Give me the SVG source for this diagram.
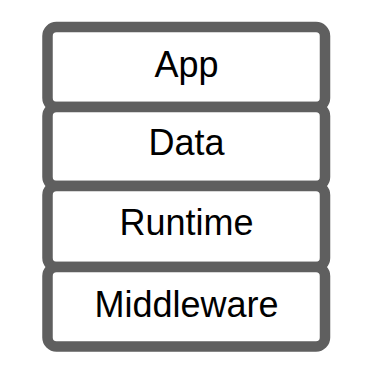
<svg xmlns="http://www.w3.org/2000/svg" width="368" height="376" viewBox="0 0 368 376">
<style>
.box{fill:#fff;stroke:#5f5f5f;stroke-width:10.5}
.lbl{font-family:"Liberation Sans",Arial,sans-serif;font-size:36px;fill:#000;text-anchor:middle}
</style>
<rect width="368" height="376" fill="#fff"/>
<g id="app"><rect class="box" x="47.5" y="27" width="277.5" height="80" rx="9"/><text class="lbl" x="186.5" y="77.3">App</text></g>
<g id="data"><rect class="box" x="47.5" y="107" width="277.5" height="79" rx="9"/><text class="lbl" x="186.5" y="155.3">Data</text></g>
<g id="runtime"><rect class="box" x="47.5" y="186" width="277.5" height="81" rx="9"/><text class="lbl" x="186.5" y="234.5">Runtime</text></g>
<g id="middleware"><rect class="box" x="47.5" y="267" width="277.5" height="79.5" rx="9"/><text class="lbl" x="186.5" y="317.3">Middleware</text></g>
<g id="connectors"></g>
</svg>
